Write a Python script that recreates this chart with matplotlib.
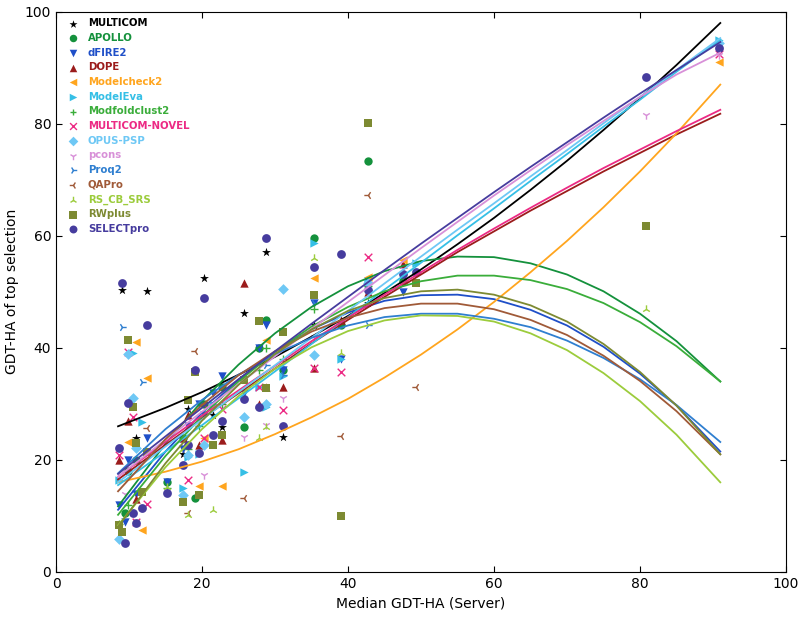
import numpy as np
import matplotlib
matplotlib.use('Agg')
import matplotlib.pyplot as plt

nan = np.nan

# median GDT-HA of the server models, one value per target
targets = [8.6, 9.0, 9.5, 9.9, 10.5, 11.0, 11.8, 12.4, 15.2, 17.4, 18.1, 19.0, 19.6,
           20.3, 21.5, 22.8, 25.8, 27.8, 28.8, 31.1, 35.4, 39.0, 42.8, 47.6, 49.3,
           80.8, 90.8]

# GDT-HA of the top selected model, per method (nan = no point)
multicom = [nan, 50.4, nan, nan, nan, 23.9, nan, 50.2, nan, 21.0, 29.1, nan, nan,
            52.5, 28.0, 25.9, 46.2, nan, 57.1, 24.1, 44.0, nan, 48.0, nan, nan, nan, nan]
apollo = [nan, nan, 10.5, 18.0, nan, 20.0, nan, nan, 16.0, 24.0, nan, 13.2, nan,
          30.0, nan, 33.0, 25.9, 40.0, 45.0, 36.0, 59.6, 44.0, 73.4, 52.0, nan, nan, nan]
dfire2 = [12.0, nan, 9.0, 20.0, nan, 14.0, nan, 24.0, 16.0, 22.0, 26.0, nan, 30.0,
          28.0, 32.0, 35.0, 32.0, 40.0, 44.0, 36.0, 48.0, 38.0, 52.0, 50.0, nan, nan, nan]
dope = [20.0, nan, nan, 27.0, nan, 13.0, nan, nan, nan, 24.0, 28.0, nan, 22.7,
        nan, nan, 23.6, 51.6, 30.0, 33.0, 33.0, 36.4, 45.0, 50.0, 55.0, nan, nan, nan]
modelcheck2 = [nan, nan, nan, 23.2, nan, 41.0, 7.5, 34.6, nan, nan, nan, nan, 15.4,
               23.9, nan, 15.4, nan, nan, 41.4, nan, 52.5, nan, 52.7, 55.7, nan, nan, 91.0]
modeleva = [16.4, nan, nan, nan, 39.0, nan, 26.8, nan, nan, 15.0, 20.5, nan, 21.0,
            nan, 30.0, nan, 17.9, 33.0, 29.5, 35.0, 58.7, 38.0, 51.6, nan, 55.2, nan, 95.0]
modfoldclust2 = [8.5, nan, nan, 12.0, nan, nan, nan, nan, 15.0, nan, 22.0, nan, 26.0,
                 nan, nan, 30.0, nan, 36.0, 40.0, 38.0, 47.0, nan, 51.0, 52.0, nan, nan, nan]
multicom_novel = [20.9, nan, nan, 39.3, 27.7, 8.9, nan, 12.1, nan, nan, 16.4, nan, nan,
                  24.0, nan, 29.0, nan, 33.0, nan, 28.9, 36.4, 35.7, 56.2, nan, nan, nan, 92.5]
opus_psp = [5.9, nan, nan, 38.9, 31.1, 22.1, nan, nan, nan, 13.8, 20.9, nan, nan,
            22.7, nan, nan, 27.7, nan, 30.0, 50.5, 38.8, nan, 51.6, nan, nan, nan, 94.5]
pcons = [nan, nan, 14.0, nan, nan, nan, nan, nan, nan, nan, nan, nan, nan,
         17.3, nan, nan, 24.1, nan, 26.3, 31.0, 42.0, nan, 50.0, 54.0, nan, 81.5, 92.2]
proq2 = [nan, 43.8, nan, nan, nan, nan, 33.9, nan, nan, nan, nan, nan, nan,
         nan, nan, nan, nan, nan, 37.0, 35.2, 48.0, nan, 44.0, nan, nan, nan, nan]
qapro = [nan, nan, nan, nan, nan, nan, nan, 25.7, nan, nan, 10.5, 39.5, nan,
         30.0, nan, nan, 13.2, nan, nan, nan, nan, 24.3, 67.3, nan, 33.0, nan, nan]
rs_cb_srs = [nan, nan, nan, nan, nan, nan, nan, nan, 15.2, nan, 10.2, nan, nan,
             nan, 11.1, nan, nan, 24.0, 25.9, nan, 56.0, 39.1, nan, nan, nan, 47.0, nan]
rwplus = [8.4, 7.1, nan, 41.4, 29.5, 23.0, 14.3, 21.4, nan, 12.5, 30.7, 35.7, 13.8,
          nan, 22.7, 24.5, 34.3, 44.8, 32.9, 42.9, 49.5, 10.0, 80.2, nan, 51.6, 61.8, nan]
selectpro = [22.1, 51.6, 5.2, 30.2, 10.5, 8.7, 11.4, 44.1, 14.1, 19.1, 22.7, 36.1, 21.3,
             48.9, 24.5, 27.0, 30.9, 29.5, 59.6, 26.1, 54.4, 56.8, 50.4, 53.2, 53.5, 88.3, 93.5]

# fitted trend lines
trend_x = [8.5, 15, 20, 25, 30, 35, 40, 45, 50, 55, 60, 65, 70, 75, 80, 85, 91]
trend_multicom = [26.0, 29.3, 32.1, 35.2, 38.4, 42.0, 45.7, 49.8, 54.0, 58.5, 63.2,
                  68.2, 73.4, 78.9, 84.6, 90.5, 98.0]
trend_apollo = [11.7, 22.9, 30.5, 37.0, 42.6, 47.3, 51.0, 53.7, 55.5, 56.3, 56.2,
                55.1, 53.1, 50.1, 46.1, 41.2, 34.0]
trend_dfire2 = [11.1, 21.5, 28.4, 34.3, 39.3, 43.3, 46.3, 48.4, 49.4, 49.5, 48.7,
                46.8, 44.0, 40.2, 35.4, 29.7, 21.5]
trend_dope = [16.5, 22.7, 27.4, 31.9, 36.3, 40.8, 45.0, 49.1, 53.1, 57.1, 60.8,
              64.5, 68.0, 71.5, 74.8, 78.1, 81.8]
trend_modelcheck2 = [16.0, 17.9, 19.7, 21.9, 24.6, 27.6, 30.9, 34.7, 38.8, 43.3, 48.2,
                     53.5, 59.1, 65.1, 71.5, 78.3, 87.0]
trend_modeleva = [15.5, 21.5, 26.2, 31.0, 35.8, 40.7, 45.5, 50.4, 55.2, 60.1, 64.9,
                  69.8, 74.6, 79.5, 84.3, 89.3, 95.0]
trend_modfoldclust2 = [10.2, 20.7, 27.8, 34.0, 39.3, 43.8, 47.3, 50.1, 51.9, 52.9, 52.9,
                       52.1, 50.5, 48.0, 44.6, 40.3, 34.0]
trend_multicom_novel = [17.0, 23.2, 27.9, 32.4, 36.8, 41.2, 45.4, 49.5, 53.5, 57.5, 61.3,
                        65.0, 68.6, 72.1, 75.4, 78.7, 82.5]
trend_opus_psp = [16.0, 22.4, 27.2, 32.1, 36.9, 41.8, 46.6, 51.5, 56.3, 61.1, 65.8,
                  70.6, 75.3, 80.1, 84.8, 89.6, 95.3]
trend_pcons = [17.0, 23.6, 28.6, 33.5, 38.5, 43.4, 48.2, 53.0, 57.8, 62.5, 67.2,
               71.7, 76.2, 80.5, 84.8, 88.8, 92.7]
trend_proq2 = [17.6, 25.5, 30.7, 35.2, 38.9, 41.8, 44.0, 45.5, 46.1, 46.1, 45.2,
               43.7, 41.3, 38.2, 34.4, 29.8, 23.2]
trend_qapro = [14.4, 23.7, 29.8, 35.1, 39.4, 42.9, 45.4, 47.1, 47.9, 47.9, 46.9,
               45.0, 42.3, 38.6, 34.1, 28.7, 21.0]
trend_rs_cb_srs = [8.3, 18.7, 25.5, 31.4, 36.3, 40.1, 43.0, 44.9, 45.8, 45.7, 44.7,
                   42.6, 39.6, 35.5, 30.5, 24.5, 16.0]
trend_rwplus = [8.1, 19.4, 27.0, 33.4, 38.9, 43.3, 46.6, 48.9, 50.1, 50.4, 49.5,
                47.6, 44.7, 40.7, 35.7, 29.7, 21.0]
trend_selectpro = [17.5, 24.2, 29.3, 34.4, 39.4, 44.3, 49.1, 53.9, 58.6, 63.2, 67.8,
                   72.3, 76.7, 81.1, 85.4, 89.6, 94.6]

methods = [
    ('MULTICOM', multicom, trend_multicom, 'black', '*', 45),
    ('APOLLO', apollo, trend_apollo, '#14913c', 'o', 36),
    ('dFIRE2', dfire2, trend_dfire2, '#1f4fc8', 'v', 36),
    ('DOPE', dope, trend_dope, '#9b1c1c', '^', 36),
    ('Modelcheck2', modelcheck2, trend_modelcheck2, '#ffa51e', '<', 36),
    ('ModelEva', modeleva, trend_modeleva, '#35bfe6', '>', 36),
    ('Modfoldclust2', modfoldclust2, trend_modfoldclust2, '#3aad3a', '+', 30),
    ('MULTICOM-NOVEL', multicom_novel, trend_multicom_novel, '#ec2a84', 'x', 30),
    ('OPUS-PSP', opus_psp, trend_opus_psp, '#6ec8f5', 'D', 30),
    ('pcons', pcons, trend_pcons, '#d890d8', '1', 36),
    ('Proq2', proq2, trend_proq2, '#2f7fd0', '4', 36),
    ('QAPro', qapro, trend_qapro, '#a05a38', '3', 36),
    ('RS_CB_SRS', rs_cb_srs, trend_rs_cb_srs, '#9ccc3c', '2', 36),
    ('RWplus', rwplus, trend_rwplus, '#7d8a32', 's', 36),
    ('SELECTpro', selectpro, trend_selectpro, '#463c9e', 'o', 40),
]

fig = plt.figure(figsize=(8, 6.21), dpi=100)
ax = fig.add_axes([0.07, 0.079, 0.9125, 0.902])

for name, ys, trend, color, marker, size in methods:
    ax.scatter(targets, ys, s=size, c=color, marker=marker, linewidths=1 if marker in '+x1234' else 0,
               label=name, zorder=2)
for name, ys, trend, color, marker, size in methods:
    ax.plot(trend_x, trend, color=color, lw=1.3, zorder=3)

ax.set_xlim(0, 100)
ax.set_ylim(0, 100)
ax.set_xticks([0, 20, 40, 60, 80, 100])
ax.set_yticks([0, 20, 40, 60, 80, 100])
ax.tick_params(direction='in', top=True, right=True, length=4, labelsize=10)
ax.set_xlabel('Median GDT-HA (Server)', fontsize=10)
ax.set_ylabel('GDT-HA of top selection', fontsize=10)

leg = ax.legend(loc='upper left', frameon=False, scatterpoints=1, fontsize=7.3,
                handletextpad=0.5, labelspacing=0.46, borderaxespad=0.25,
                borderpad=0.4, markerscale=0.9)
for text, m in zip(leg.get_texts(), methods):
    text.set_color(m[3])
    text.set_fontweight('semibold')

fig.savefig('out.png', dpi=100)
